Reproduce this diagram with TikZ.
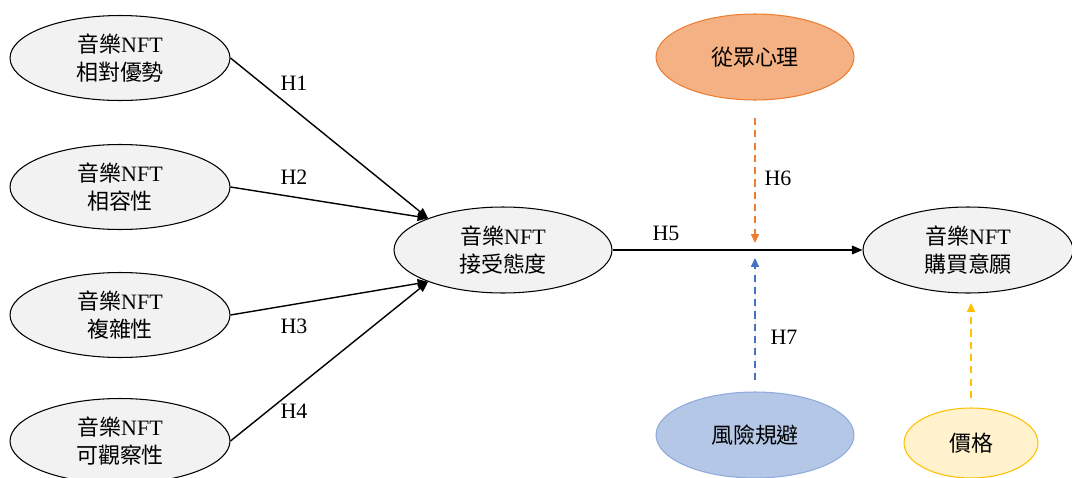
\documentclass[tikz,border=0pt]{standalone}
\usepackage{fontspec}
\setmainfont{Liberation Serif}
\newfontfamily\cjk{Noto Sans CJK TC}
\usetikzlibrary{arrows.meta,shapes.geometric}
\definecolor{grayfill}{HTML}{F2F2F2}
\definecolor{orfill}{HTML}{F4B183}
\definecolor{orline}{HTML}{ED7D31}
\definecolor{blfill}{HTML}{B4C7E7}
\definecolor{blline}{HTML}{8FAADC}
\definecolor{bldash}{HTML}{4472C4}
\definecolor{yefill}{HTML}{FFF2CC}
\definecolor{yeline}{HTML}{FFC000}
\begin{document}
\begin{tikzpicture}[x=0.02cm,y=-0.02cm,
  oval/.style={ellipse,draw=black,line width=0.6pt,fill=grayfill,inner sep=0pt,
    minimum width=4.4cm,minimum height=1.7cm,align=center,font=\fontsize{12.5}{16}\selectfont},
  link/.style={line width=0.8pt,-{Triangle[length=6pt,width=5pt]}},
  dlink/.style={line width=0.9pt,dashed,dash pattern=on 4pt off 3pt,-{Triangle[length=5pt,width=4.5pt]}},
  hlab/.style={font=\fontsize{12.5}{15}\selectfont,inner sep=0pt}]
\useasboundingbox (0,0) rectangle (1072,477);
\node[oval] (a1) at (120,58) {{\cjk 音樂}NFT\\{\cjk 相對優勢}};
\node[oval] (a2) at (120,187) {{\cjk 音樂}NFT\\{\cjk 相容性}};
\node[oval] (a3) at (120,315) {{\cjk 音樂}NFT\\{\cjk 複雜性}};
\node[oval] (a4) at (120,441) {{\cjk 音樂}NFT\\{\cjk 可觀察性}};
\node[oval,minimum width=4.36cm,minimum height=1.72cm] (c) at (503,250) {{\cjk 音樂}NFT\\{\cjk 接受態度}};
\node[oval,minimum width=4.2cm,minimum height=1.72cm] (p) at (968,250) {{\cjk 音樂}NFT\\{\cjk 購買意願}};
\node[oval,draw=orline,fill=orfill,minimum width=3.96cm,minimum height=1.72cm] (h) at (755,57) {\cjk 從眾心理};
\node[oval,draw=blline,fill=blfill,minimum width=3.96cm,minimum height=1.72cm] (r) at (755,435) {\cjk 風險規避};
\node[oval,draw=yeline,fill=yefill,minimum width=2.68cm,minimum height=1.4cm] (pr) at (971,443) {\cjk 價格};

\draw[link] (a1.east) -- (c.157);
\draw[link] (a2.east) -- (c.157);
\draw[link] (a3.east) -- (c.203);
\draw[link] (a4.east) -- (c.203);
\draw[link] (c.east) -- (p.west);

\coordinate (o1) at (755,118);
\coordinate (o2) at (755,243);
\coordinate (b1) at (755,380);
\coordinate (b2) at (755,258);
\coordinate (y1) at (971,398);
\coordinate (y2) at (971,303);
\draw[dlink,draw=orline,fill=orline] (o1) -- (o2);
\draw[dlink,draw=bldash,fill=bldash] (b1) -- (b2);
\draw[dlink,draw=yeline,fill=yeline] (y1) -- (y2);

\node[hlab] (l1) at (294,83) {H1};
\node[hlab] (l2) at (294,177) {H2};
\node[hlab] (l3) at (294,326) {H3};
\node[hlab] (l4) at (294,411) {H4};
\node[hlab] (l5) at (666,233) {H5};
\node[hlab] (l6) at (778,178) {H6};
\node[hlab] (l7) at (784,337) {H7};
\end{tikzpicture}
\end{document}
